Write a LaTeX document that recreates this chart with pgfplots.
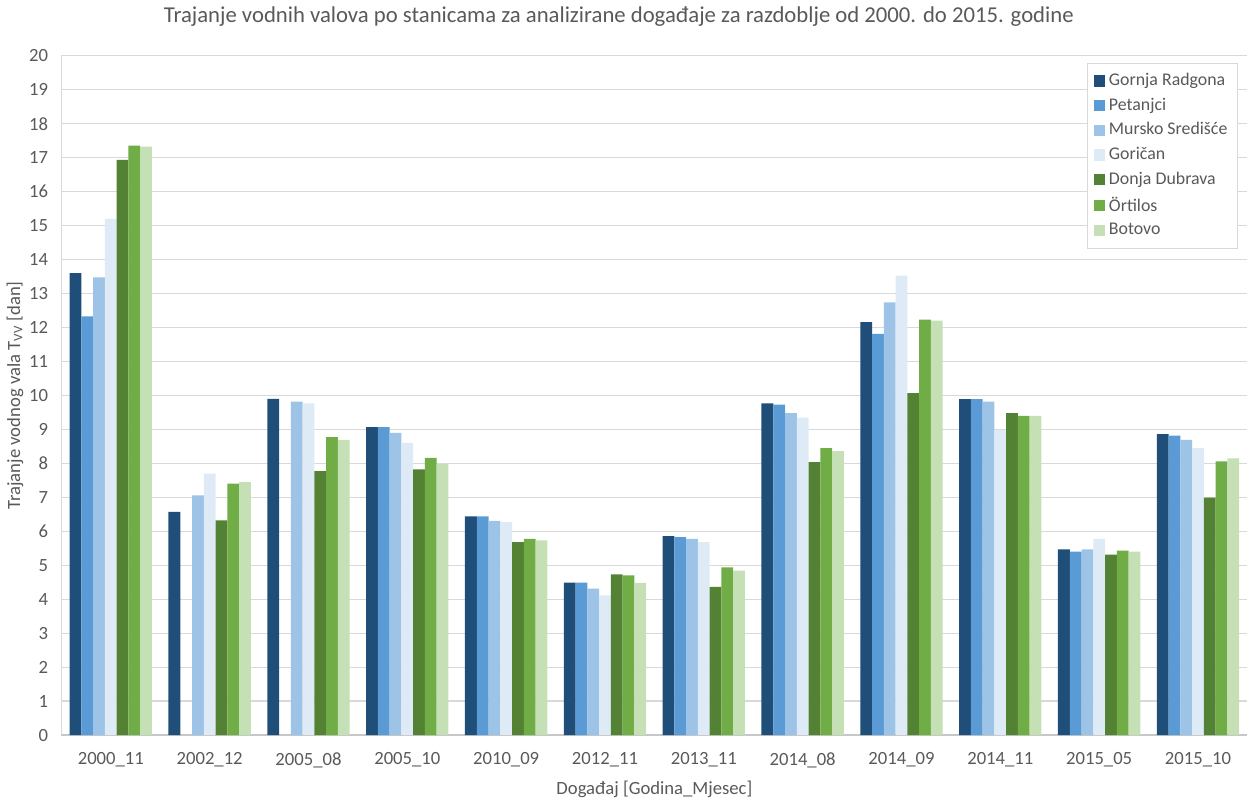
\documentclass[border=0pt]{standalone}
\usepackage{fontspec}
\setmainfont{Carlito}
\usepackage{pgfplots}
\pgfplotsset{compat=1.18}
\definecolor{cGR}{HTML}{1F4E79}
\definecolor{cPE}{HTML}{5B9BD5}
\definecolor{cMS}{HTML}{9DC3E6}
\definecolor{cGO}{HTML}{DEEBF7}
\definecolor{cDD}{HTML}{548235}
\definecolor{cOR}{HTML}{70AD47}
\definecolor{cBO}{HTML}{C5E0B4}
\definecolor{cTxt}{HTML}{595959}
\definecolor{cGrid}{HTML}{D9D9D9}

% x: 0..11 = 2000_11 ... 2015_10; nan = no bar
\pgfplotstableread{
x  GR     PE     MS     GO     DD     OR     BO
0  13.60  12.33  13.48  15.20  16.94  17.36  17.33
1  6.57   nan    7.06   7.70   6.32   7.40   7.45
2  9.90   nan    9.82   9.77   7.77   8.77   8.69
3  9.07   9.07   8.90   8.60   7.82   8.16   7.98
4  6.44   6.44   6.31   6.27   5.68   5.78   5.73
5  4.49   4.49   4.31   4.11   4.73   4.70   4.48
6  5.86   5.83   5.78   5.68   4.36   4.94   4.84
7  9.77   9.73   9.48   9.35   8.04   8.45   8.36
8  12.16  11.81  12.74  13.53  10.07  12.23  12.20
9  9.89   9.89   9.82   8.98   9.48   9.40   9.40
10 5.47   5.40   5.47   5.78   5.31   5.43   5.40
11 8.86   8.82   8.69   8.45   6.99   8.06   8.15
}\data

\begin{document}
\begin{tikzpicture}
\begin{axis}[
  scale only axis,
  width=585pt, height=335pt,
  ybar=0pt, bar width=5.8pt,
  xmin=-0.5, xmax=11.5,
  ymin=0, ymax=20,
  ytick={0,1,...,20},
  xtick={0,1,...,11},
  xticklabels={2000\_11,2002\_12,2005\_08,2005\_10,2010\_09,2012\_11,2013\_11,2014\_08,2014\_09,2014\_11,2015\_05,2015\_10},
  major tick length=0pt,
  axis x line*=bottom, axis y line*=left,
  x axis line style={draw=cGrid!80!gray, line width=0.6pt},
  y axis line style={draw=cGrid, line width=0.6pt},
  ymajorgrids, major grid style={draw=cGrid, line width=0.6pt},
  tick label style={font=\fontsize{9.2}{10}\selectfont, text=cTxt},
  /pgf/number format/assume math mode=true,
  yticklabel style={xshift=-3pt},
  xticklabel style={yshift=-5pt},
  xlabel={Događaj [Godina\_Mjesec]},
  ylabel={Trajanje vodnog vala T\textsubscript{VV} [dan]},
  label style={font=\fontsize{9.2}{10}\selectfont, text=cTxt},
  xlabel style={yshift=0pt},
  ylabel style={yshift=-4pt},
  title={Trajanje vodnih valova po stanicama za analizirane događaje za razdoblje od 2000. do 2015. godine},
  title style={font=\fontsize{11.2}{13}\selectfont, text=cTxt, at={(rel axis cs:0.47,1)}, anchor=south, yshift=5pt},
  legend style={at={(rel axis cs:0.992,0.99)}, anchor=north east, draw=cGrid, font=\fontsize{8.8}{10}\selectfont, text=cTxt, row sep=0.6pt, inner sep=3pt},
  legend cell align=left,
  legend image code/.code={\fill[#1] (0pt,-2.8pt) rectangle (5.6pt,2.8pt);},
]
\addplot[fill=cGR, draw=none] table[x=x,y=GR] {\data};
\addplot[fill=cPE, draw=none] table[x=x,y=PE] {\data};
\addplot[fill=cMS, draw=none] table[x=x,y=MS] {\data};
\addplot[fill=cGO, draw=none] table[x=x,y=GO] {\data};
\addplot[fill=cDD, draw=none] table[x=x,y=DD] {\data};
\addplot[fill=cOR, draw=none] table[x=x,y=OR] {\data};
\addplot[fill=cBO, draw=none] table[x=x,y=BO] {\data};
\legend{Gornja Radgona,Petanjci,Mursko Središće,Goričan,Donja Dubrava,Örtilos,Botovo}
\end{axis}
\end{tikzpicture}
\end{document}
